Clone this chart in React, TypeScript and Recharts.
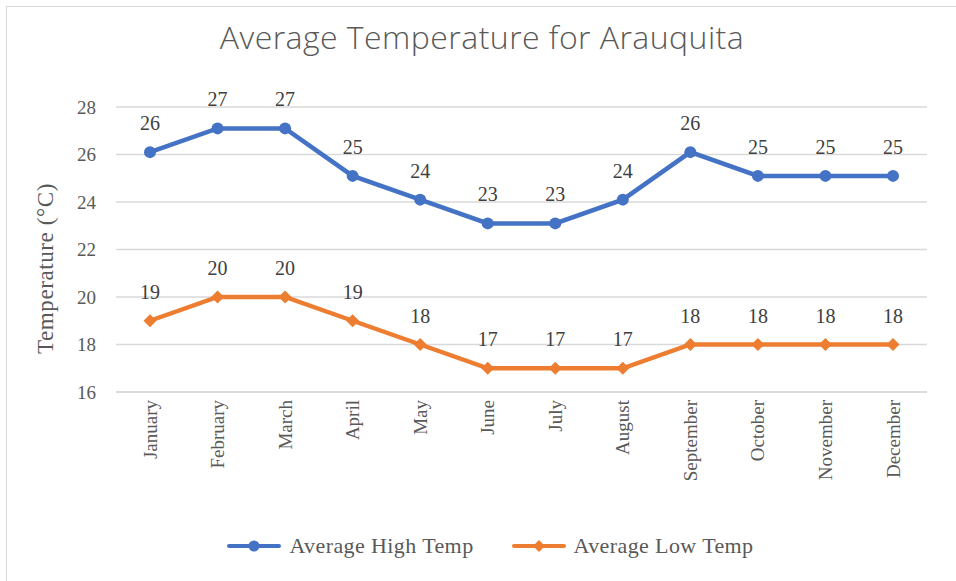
import { LineChart, Line, XAxis, YAxis, CartesianGrid, Legend, LabelList } from "recharts";

const months = [
  "January", "February", "March", "April", "May", "June",
  "July", "August", "September", "October", "November", "December",
];
const highTemps = [26.1, 27.1, 27.1, 25.1, 24.1, 23.1, 23.1, 24.1, 26.1, 25.1, 25.1, 25.1];
const lowTemps = [19, 20, 20, 19, 18, 17, 17, 17, 18, 18, 18, 18];
const yTicks = [16, 18, 20, 22, 24, 26, 28];

const data = months.map((m, i) => ({ month: m, high: highTemps[i], low: lowTemps[i] }));

const BLUE = "#4472C4";
const ORANGE = "#ED7D31";
const TEXT = "#595959";
const SERIF = "'Liberation Serif', 'DejaVu Serif', serif";

const Diamond = (props: any) => {
  const { cx, cy } = props;
  if (cx == null || cy == null) return null;
  const r = 6.5;
  return (
    <path
      d={`M${cx},${cy - r} L${cx + r},${cy} L${cx},${cy + r} L${cx - r},${cy} Z`}
      fill={ORANGE}
    />
  );
};

const MonthTick = (props: any) => {
  const { x, y, payload } = props;
  return (
    <text
      x={x}
      y={y}
      transform={`rotate(-90, ${x}, ${y})`}
      textAnchor="end"
      dominantBaseline="central"
      fill={TEXT}
      fontSize={19}
      fontFamily={SERIF}
    >
      {payload.value}
    </text>
  );
};

const YLabel = (props: any) => {
  const vb = props.viewBox || {};
  const cy = (vb.y ?? 107) + (vb.height ?? 285) / 2 + 19;
  return (
    <text
      x={45}
      y={cy}
      transform={`rotate(-90, 45, ${cy})`}
      textAnchor="middle"
      dominantBaseline="central"
      fill={TEXT}
      fontSize={23}
      fontFamily={SERIF}
      letterSpacing={0.6}
    >
      Temperature (°C)
    </text>
  );
};

const LegendContent = () => (
  <div style={{ display: "flex", justifyContent: "center", gap: 38, fontFamily: SERIF, fontSize: 22, letterSpacing: 0.4, color: TEXT, paddingRight: 2, paddingTop: 5 }}>
    <div style={{ display: "flex", alignItems: "center" }}>
      <svg width={62} height={16}>
        <line x1={2} y1={8} x2={52} y2={8} stroke={BLUE} strokeWidth={4} strokeLinecap="round" />
        <circle cx={27} cy={8} r={5.5} fill={BLUE} />
      </svg>
      <span>Average High Temp</span>
    </div>
    <div style={{ display: "flex", alignItems: "center" }}>
      <svg width={62} height={16}>
        <line x1={2} y1={8} x2={52} y2={8} stroke={ORANGE} strokeWidth={4} strokeLinecap="round" />
        <path d="M27,2 L33,8 L27,14 L21,8 Z" fill={ORANGE} />
      </svg>
      <span>Average Low Temp</span>
    </div>
  </div>
);

const App = () => {
  return (
    <div style={{ position: "fixed", left: 0, top: 0, width: 956, height: 581, background: "#fff", overflow: "hidden" }}>
      <div style={{ position: "absolute", left: 6, top: 6, width: 1000, height: 1000, borderLeft: "1px solid #d9d9d9", borderTop: "1px solid #d9d9d9" }} />
      <div
        style={{
          position: "absolute",
          top: 15,
          left: 0,
          width: 964,
          textAlign: "center",
          fontFamily: "'Open Sans', sans-serif",
          fontWeight: 300,
          fontSize: 32,
          color: TEXT,
          letterSpacing: 0.45,
        }}
      >
        Average Temperature for Arauquita
      </div>
      <div style={{ position: "absolute", left: 0, top: 0 }}>
        <LineChart width={956} height={581} data={data} margin={{ top: 107, right: 29, left: 56, bottom: 19 }}>
          <CartesianGrid vertical={false} stroke="#d9d9d9" strokeWidth={1.5} />
          <XAxis
            dataKey="month"
            axisLine={{ stroke: "#d9d9d9", strokeWidth: 1.5 }}
            tickLine={false}
            tick={<MonthTick />}
            height={136}
            interval={0}
            padding={{ left: 34, right: 34 }}
          />
          <YAxis
            domain={[16, 28]}
            ticks={yTicks}
            axisLine={false}
            tickLine={false}
            width={60}
            tick={{ fill: TEXT, fontSize: 19, fontFamily: SERIF }}
            tickMargin={14}
            label={<YLabel />}
          />
          <Legend verticalAlign="bottom" height={34} content={<LegendContent />} />
          <Line
            type="linear"
            dataKey="high"
            stroke={BLUE}
            strokeWidth={4.5}
            dot={{ r: 6, fill: BLUE, stroke: BLUE, strokeWidth: 0 }}
            isAnimationActive={false}
          >
            <LabelList
              dataKey="high"
              position="top"
              offset={22}
              formatter={(v: any) => Math.round(Number(v))}
              style={{ fill: "#404040", fontSize: 20, fontFamily: SERIF }}
            />
          </Line>
          <Line
            type="linear"
            dataKey="low"
            stroke={ORANGE}
            strokeWidth={4.5}
            dot={<Diamond />}
            isAnimationActive={false}
          >
            <LabelList
              dataKey="low"
              position="top"
              offset={22}
              formatter={(v: any) => Math.round(Number(v))}
              style={{ fill: "#404040", fontSize: 20, fontFamily: SERIF }}
            />
          </Line>
        </LineChart>
      </div>
    </div>
  );
};

export default App;
